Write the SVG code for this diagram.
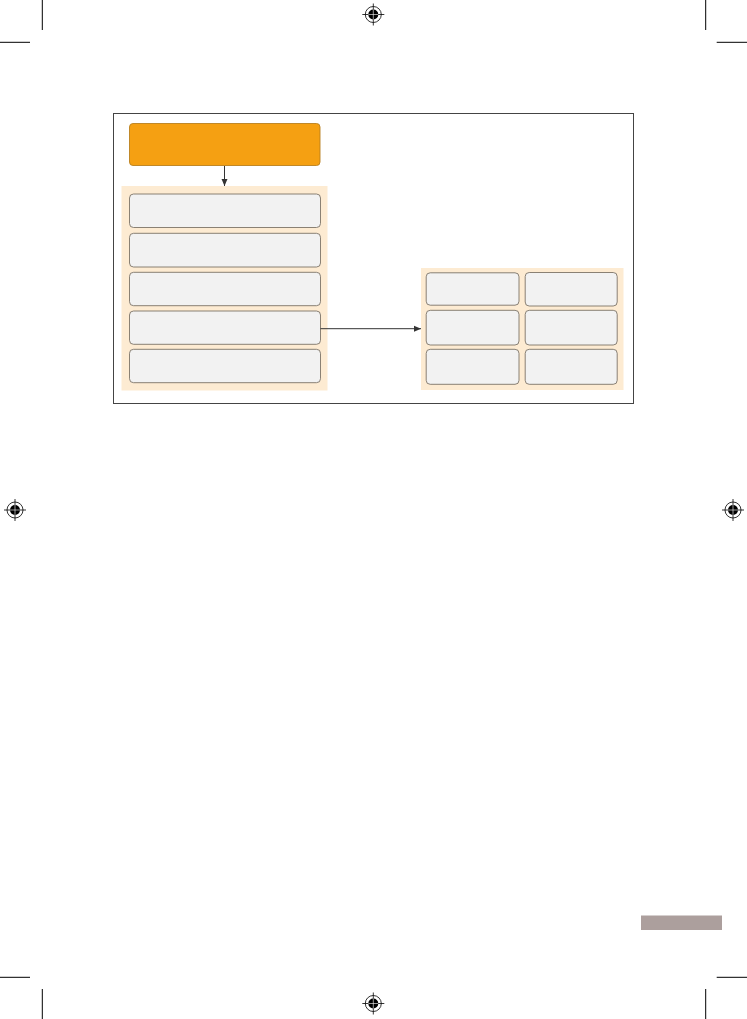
<svg xmlns="http://www.w3.org/2000/svg" width="747" height="1019" viewBox="0 0 747 1019">
<defs>
<style>
.crop{stroke:#000;stroke-width:1;fill:none}
.panel{fill:#FDEBD2;stroke:none}
.box{fill:#F2F2F2;stroke:#7d7468;stroke-width:0.9}
.conn{stroke:#333;stroke-width:1;fill:none}
</style>
<marker id="arr" markerWidth="8" markerHeight="8" refX="7" refY="4" orient="auto" markerUnits="userSpaceOnUse">
<path d="M0,1 L7,4 L0,7 Z" fill="#333"/>
</marker>
<g id="reg">
<circle r="8" fill="none" stroke="#000" stroke-width="0.8"/>
<circle r="5" fill="#000"/>
<line x1="-11" y1="0" x2="11" y2="0" stroke="#000" stroke-width="0.8"/>
<line x1="0" y1="-11" x2="0" y2="11" stroke="#000" stroke-width="0.8"/>
<line x1="-5" y1="0" x2="5" y2="0" stroke="#fff" stroke-width="0.6"/>
<line x1="0" y1="-5" x2="0" y2="5" stroke="#fff" stroke-width="0.6"/>
</g>
</defs>
<rect width="747" height="1019" fill="#fff"/>
<g id="print-marks">
<path class="crop" d="M42.3,0 V30 M0,42.3 H30 M705.7,0 V30 M716.7,42.3 H747 M0,977.3 H30 M42.3,989 V1019 M716.7,977.3 H747 M705.7,989 V1019"/>
<use href="#reg" x="373.3" y="14.5"/>
<use href="#reg" x="15" y="510"/>
<use href="#reg" x="733" y="510"/>
<use href="#reg" x="373.3" y="1003.5"/>
<rect x="641" y="915.5" width="81" height="14.5" fill="#AC9F9D"/>
</g>
<rect id="frame" x="113.5" y="113.5" width="520" height="290" fill="#fff" stroke="#444" stroke-width="1"/>
<g id="top-node">
<rect x="129.5" y="123.5" width="190.5" height="42" rx="3.5" fill="#F5A012" stroke="#B9801E" stroke-width="0.9"/>
</g>
<g id="left-panel">
<rect class="panel" x="121.5" y="186" width="206" height="204.5"/>
</g>
<g id="left-box-1"><rect class="box" x="129.5" y="194" width="191" height="33.5" rx="4"/></g>
<g id="left-box-2"><rect class="box" x="129.5" y="233.3" width="191" height="33.7" rx="4"/></g>
<g id="left-box-3"><rect class="box" x="129.5" y="272.3" width="191" height="33.4" rx="4"/></g>
<g id="left-box-4"><rect class="box" x="129.5" y="311" width="191" height="33.3" rx="4"/></g>
<g id="left-box-5"><rect class="box" x="129.5" y="349.3" width="191" height="33.4" rx="4"/></g>
<g id="right-panel">
<rect class="panel" x="421" y="268" width="202.5" height="122"/>
</g>
<g id="right-box-1"><rect class="box" x="426.2" y="272.8" width="92.8" height="32.4" rx="4"/></g>
<g id="right-box-2"><rect class="box" x="525.2" y="272.5" width="92" height="33.5" rx="4"/></g>
<g id="right-box-3"><rect class="box" x="426.2" y="310.3" width="92.8" height="34.7" rx="4"/></g>
<g id="right-box-4"><rect class="box" x="525.2" y="310.3" width="92" height="34.7" rx="4"/></g>
<g id="right-box-5"><rect class="box" x="426.2" y="349.3" width="92.8" height="35" rx="4"/></g>
<g id="right-box-6"><rect class="box" x="525.2" y="349.3" width="92" height="35" rx="4"/></g>
<g id="connectors">
<line class="conn" x1="224.5" y1="166" x2="224.5" y2="186" marker-end="url(#arr)"/>
<line class="conn" x1="320.5" y1="328.7" x2="421" y2="328.7" marker-end="url(#arr)"/>
</g>
</svg>
